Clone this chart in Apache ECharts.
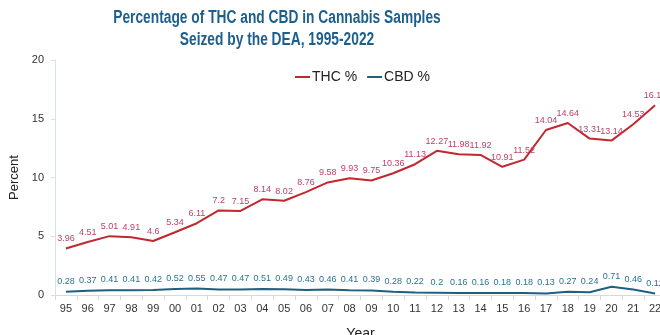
<!DOCTYPE html>
<html><head><meta charset="utf-8">
<script src="https://cdn.jsdelivr.net/npm/echarts@6/dist/echarts.min.js"></script>
<style>html,body{margin:0;padding:0;background:#fff}#c{width:660px;height:335px}</style>
</head><body><div id="c"></div>
<script>
const years = ['95','96','97','98','99','00','01','02','03','04','05','06','07','08','09','10','11','12','13','14','15','16','17','18','19','20','21','22'];
const thc = [3.96,4.51,5.01,4.91,4.6,5.34,6.11,7.2,7.15,8.14,8.02,8.76,9.58,9.93,9.75,10.36,11.13,12.27,11.98,11.92,10.91,11.52,14.04,14.64,13.31,13.14,14.53,16.14];
const cbd = [0.28,0.37,0.41,0.41,0.42,0.52,0.55,0.47,0.47,0.51,0.49,0.43,0.46,0.41,0.39,0.28,0.22,0.2,0.16,0.16,0.18,0.18,0.13,0.27,0.24,0.71,0.46,0.12];
const titleLines = ['Percentage of THC and CBD in Cannabis Samples','Seized by the DEA, 1995-2022'];

const chart = echarts.init(document.getElementById('c'), null, {renderer:'canvas'});
const titleFont = 'bold 18px "Liberation Sans", Arial, sans-serif';
chart.setOption({
  animation:false,
  graphic:titleLines.map((t,i)=>({
    type:'text', x:277, y:18+i*22, scaleX:0.765,
    style:{text:t, font:titleFont, fill:'#1d5f8c', align:'center', verticalAlign:'middle'}
  })),
  legend:{
    left:290, top:65, itemWidth:15, itemHeight:2, itemGap:10,
    icon:'rect',
    textStyle:{fontFamily:'Liberation Sans',fontSize:14,color:'#222',padding:[0,0,0,-3]},
    data:['THC %','CBD %']
  },
  grid:{left:55, top:60, width:611, height:235, containLabel:false, outerBoundsMode:'none'},
  xAxis:{
    type:'category', data:years, boundaryGap:true,
    name:'Year', nameLocation:'middle', nameGap:32,
    nameTextStyle:{fontFamily:'Liberation Sans',fontSize:14,color:'#222'},
    axisLine:{lineStyle:{color:'#d9d9d9'}},
    axisTick:{show:true, lineStyle:{color:'#d9d9d9'}},
    axisLabel:{fontFamily:'Liberation Sans',fontSize:11,color:'#333',margin:8,interval:0}
  },
  yAxis:{
    type:'value', min:0, max:20, interval:5,
    name:'Percent', nameLocation:'middle', nameGap:34, nameRotate:90,
    nameTextStyle:{fontFamily:'Liberation Sans',fontSize:13,color:'#222'},
    axisLine:{show:true,lineStyle:{color:'#d6e1ea'}},
    axisTick:{show:true,length:4,lineStyle:{color:'#d6e1ea'}},
    splitLine:{show:false},
    axisLabel:{fontFamily:'Liberation Sans',fontSize:11,color:'#333',margin:11}
  },
  series:[
    {name:'THC %', type:'line', data:thc, symbol:'circle', symbolSize:0.01, showSymbol:true, color:'#c0282e',
     lineStyle:{width:2,color:'#c0282e'},
     labelLayout:{hideOverlap:false},
     label:{show:true,position:'top',distance:5,fontFamily:'Liberation Sans',fontSize:9,color:'#c0406a'}},
    {name:'CBD %', type:'line', data:cbd, symbol:'circle', symbolSize:0.01, showSymbol:true, color:'#1f5f80',
     lineStyle:{width:2,color:'#1f5f80'},
     labelLayout:{hideOverlap:false},
     label:{show:true,position:'top',distance:6,fontFamily:'Liberation Sans',fontSize:9,color:'#2a7393'}}
  ]
});
</script></body></html>
